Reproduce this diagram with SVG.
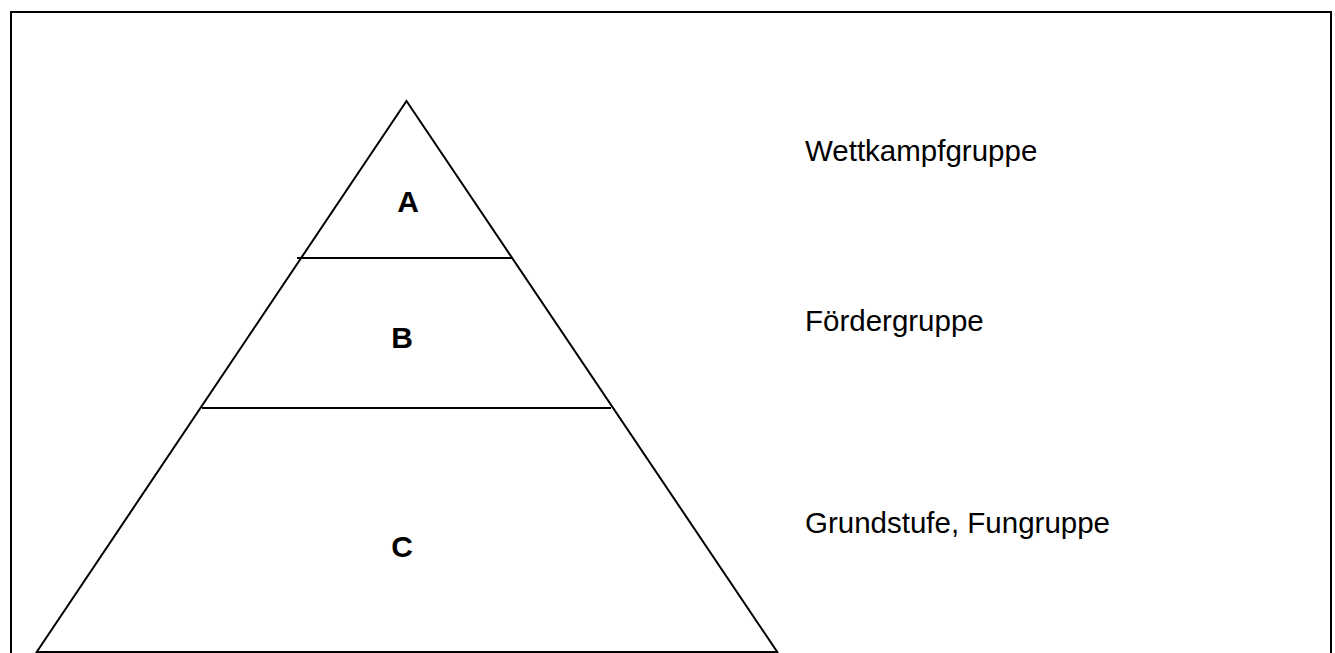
<svg xmlns="http://www.w3.org/2000/svg" width="1335" height="653" viewBox="0 0 1335 653">
<style>
.ln{stroke:#000;stroke-width:2;fill:none}
.lbl{font-family:"Liberation Sans",Arial,sans-serif;font-size:30px;font-weight:bold;text-anchor:middle;fill:#000}
.txt{font-family:"Liberation Sans",Arial,sans-serif;font-size:29.5px;fill:#000}
</style>
<rect x="0" y="0" width="1335" height="653" fill="#fff"/>
<rect id="frame" x="11" y="12" width="1320" height="660" class="ln"/>
<g id="pyramid">
<polyline class="ln" points="36,653 406.5,101 778,653"/>
<line class="ln" x1="36" y1="652" x2="778" y2="652" stroke="#999"/>
</g>
<g id="connectors">
<line class="ln" x1="297" y1="258" x2="513" y2="258"/>
<line class="ln" x1="202" y1="408" x2="611" y2="408"/>
</g>
<g id="nodeA"><text class="lbl" x="408" y="212">A</text></g>
<g id="nodeB"><text class="lbl" x="402" y="348">B</text></g>
<g id="nodeC"><text class="lbl" x="402" y="557">C</text></g>
<g id="labelA"><text class="txt" x="805" y="161">Wettkampfgruppe</text></g>
<g id="labelB"><text class="txt" x="805" y="331">Fördergruppe</text></g>
<g id="labelC"><text class="txt" x="805" y="533">Grundstufe, Fungruppe</text></g>
</svg>
